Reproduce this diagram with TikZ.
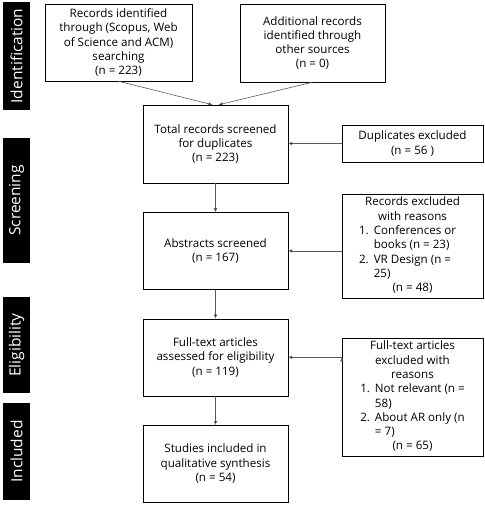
\documentclass[tikz,border=0pt]{standalone}
\usepackage{fontspec}
\setmainfont{Open Sans}
\usetikzlibrary{positioning}
\usetikzlibrary{arrows.meta}

\begin{document}
\begin{tikzpicture}[x=1pt,y=-1pt,->,>={Latex[length=4pt,width=3.5pt]},node distance = 29pt,font=\fontsize{11.6}{14.3}\selectfont]
\tikzstyle{v}=[rectangle,draw,thin,align=center,minimum width=145pt,minimum height=77pt,inner sep=2pt]
\tikzstyle{ex}=[rectangle,draw,thin,align=center,minimum width=141pt,inner sep=2pt]
\tikzstyle{stage}=[rectangle,fill=black,text=white,rotate=90,minimum height=27pt,inner sep=0pt,font=\fontsize{15.5}{18}\selectfont]
\tikzstyle{link}=[draw=black!65,line width=0.6pt]
\useasboundingbox (0,0) rectangle (484,505);
% stage bars
\node[stage,minimum width=108pt]	(sId)	at (16.5,56)	{Identification};
\node[stage,minimum width=125pt]	(sSc)	at (16.5,200.5)	{Screening};
\node[stage,minimum width=96pt]	(sEl)	at (16.5,345)	{Eligibility};
\node[stage,minimum width=97pt]	(sIn)	at (16.5,451.5)	{Included};
% main column
\node[v,minimum width=147pt]	(id1)	at (118.5,42.5)	{Records identified\\through (Scopus, Web\\of Science and ACM)\\searching\\(n = 223)};
\node[v,minimum height=78pt]	(id2)	at (312.5,43)	{Additional records\\identified through\\other sources\\(n = 0)};
\node[v,minimum height=78pt]	(total)	at (215.5,144)	{Total records screened\\for duplicates\\(n = 223)};
\node[v]	(abs)	[below = of total]	{Abstracts screened\\(n = 167)};
\node[v]	(full)	[below = of abs]	{Full-text articles\\assessed for eligibility\\(n = 119)};
\node[v]	(incl)	[below = of full]	{Studies included in\\qualitative synthesis\\(n = 54)};
% exclusions
\node[ex,minimum height=37pt]	(dup)	at (412.5,143.5)	{Duplicates excluded\\(n = 56 )};
\node[ex,minimum height=104pt]	(recex)	at (412.5,246)	{\begin{tabular}{@{}l@{\hspace{5pt}}l@{}}
  \multicolumn{2}{c}{Records excluded}\\
  \multicolumn{2}{c}{with reasons}\\
  1. & Conferences or\\
     & books (n = 23)\\
  2. & VR Design (n =\\
     & 25)\\
  \multicolumn{2}{c}{(n = 48)}\\
 \end{tabular}};
\node[ex,minimum height=116pt]	(fullex)	at (412.5,397)	{\begin{tabular}{@{}l@{\hspace{5pt}}l@{}}
  \multicolumn{2}{c}{Full-text articles}\\
  \multicolumn{2}{c}{excluded with}\\
  \multicolumn{2}{c}{reasons}\\
  1. & Not relevant (n =\\
     & 58)\\
  2. & About AR only (n\\
     & = 7)\\
  \multicolumn{2}{c}{(n = 65)}\\
 \end{tabular}};
\path[link]	(id1.south)	edge	([xshift=-3pt]total.north)
	(id2.south)	edge	([xshift=3pt]total.north)
	(dup.west)	edge	(dup.west -| total.east)
	(total)	edge	(abs)
	(abs)	edge	(full)
	(full)	edge	(incl)
	(recex.west |- abs.east)	edge	(abs.east)
	(fullex.west |- full.east)	edge	(full.east);
\end{tikzpicture}
\end{document}
